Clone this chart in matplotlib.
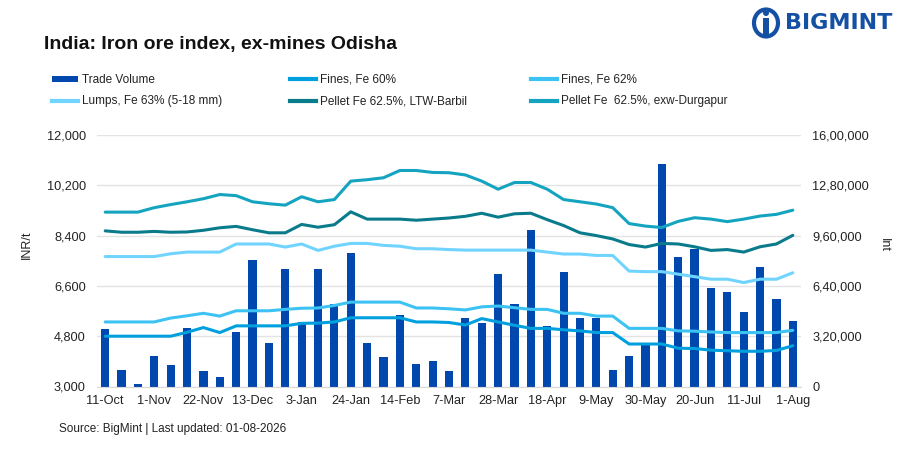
import matplotlib
matplotlib.use('Agg')
import matplotlib.pyplot as plt
from matplotlib.lines import Line2D
from matplotlib.patches import Patch, Ellipse, Rectangle
from matplotlib.ticker import FuncFormatter, FixedLocator
import numpy as np

# weekly dates, 11-Oct .. 1-Aug
weeks = ['11-Oct', '18-Oct', '25-Oct', '1-Nov', '8-Nov', '15-Nov', '22-Nov', '29-Nov',
         '6-Dec', '13-Dec', '20-Dec', '27-Dec', '3-Jan', '10-Jan', '17-Jan', '24-Jan',
         '31-Jan', '7-Feb', '14-Feb', '21-Feb', '28-Feb', '7-Mar', '14-Mar', '21-Mar',
         '28-Mar', '4-Apr', '11-Apr', '18-Apr', '25-Apr', '2-May', '9-May', '16-May',
         '23-May', '30-May', '6-Jun', '13-Jun', '20-Jun', '27-Jun', '4-Jul', '11-Jul',
         '18-Jul', '25-Jul', '1-Aug']

trade_volume = [365000, 106000, 19000, 197000, 138000, 373000, 100000, 59000, 348000, 806000,
                278000, 749000, 409000, 749000, 524000, 848000, 278000, 189000, 456000, 140000,
                165000, 100000, 435000, 403000, 713000, 524000, 995000, 386000, 727000, 435000,
                435000, 102000, 193000, 278000, 1417000, 823000, 874000, 628000, 600000, 473000,
                759000, 558000, 416000]

fines_60 = [4800, 4800, 4800, 4800, 4800, 4940, 5110, 4930, 5170, 5170,
            5170, 5170, 5260, 5270, 5310, 5460, 5460, 5460, 5460, 5310,
            5310, 5290, 5200, 5430, 5310, 5190, 5080, 5080, 5030, 4990,
            4930, 4930, 4520, 4520, 4520, 4370, 4360, 4300, 4280, 4260,
            4260, 4290, 4460]

fines_62 = [5310, 5310, 5310, 5310, 5450, 5530, 5620, 5520, 5710, 5710,
            5710, 5760, 5800, 5810, 5900, 6020, 6020, 6020, 6020, 5810,
            5810, 5780, 5740, 5850, 5880, 5820, 5760, 5760, 5620, 5620,
            5520, 5520, 5080, 5080, 5080, 4990, 4980, 4950, 4930, 4930,
            4930, 4930, 5010]

lumps_63 = [7650, 7650, 7650, 7650, 7750, 7810, 7810, 7810, 8100, 8100,
            8100, 7990, 8100, 7870, 8020, 8120, 8120, 8050, 8020, 7930,
            7930, 7900, 7880, 7880, 7880, 7880, 7880, 7810, 7740, 7740,
            7690, 7690, 7130, 7110, 7110, 7020, 6930, 6840, 6840, 6720,
            6840, 6840, 7070]

pellet_barbil = [8570, 8520, 8520, 8550, 8520, 8530, 8590, 8680, 8730, 8610,
                 8500, 8500, 8800, 8700, 8790, 9250, 8990, 8990, 8990, 8950,
                 8990, 9030, 9090, 9200, 9060, 9180, 9200, 8970, 8760, 8500,
                 8400, 8280, 8080, 7990, 8120, 8100, 8000, 7870, 7900, 7810,
                 8000, 8100, 8410]

pellet_durgapur = [9240, 9240, 9240, 9400, 9510, 9610, 9720, 9870, 9830, 9610,
                   9540, 9490, 9790, 9610, 9690, 10350, 10400, 10470, 10730, 10730,
                   10660, 10650, 10570, 10350, 10060, 10300, 10300, 10060, 9690, 9610,
                   9530, 9400, 8830, 8740, 8690, 8910, 9040, 8990, 8900, 8990,
                   9100, 9160, 9310]

price_ticks = [3000, 4800, 6600, 8400, 10200, 12000]
volume_ticks = [0, 320000, 640000, 960000, 1280000, 1600000]

c_bar = '#0048AD'
c_f60 = '#00A0DE'
c_f62 = '#3CC3F4'
c_lump = '#70D4FF'
c_barbil = '#0A7B8B'
c_durg = '#14A4BF'
c_text = '#222222'

W, H = 907, 453


def indian_fmt(v, pos=None):
    s = str(int(round(v)))
    if len(s) <= 3:
        return s
    last3 = s[-3:]
    rest = s[:-3]
    parts = []
    while len(rest) > 2:
        parts.insert(0, rest[-2:])
        rest = rest[:-2]
    if rest:
        parts.insert(0, rest)
    return ','.join(parts) + ',' + last3


plt.rcParams['font.family'] = ['Liberation Sans', 'DejaVu Sans']

fig = plt.figure(figsize=(W / 100, H / 100), dpi=100)
fig.patch.set_facecolor('white')

left, right = 97 / W, 801 / W
bottom, top = 1 - 386.5 / H, 1 - 135 / H
ax = fig.add_axes([left, bottom, right - left, top - bottom])
x = np.arange(len(weeks))

# volume bars (right axis) drawn underneath
ax.bar(x, trade_volume, width=0.5, color=c_bar, zorder=2)
ax.set_ylim(0, 1600000)
ax.grid(axis='y', color='#E3E3E3', linewidth=1, zorder=0)
ax.set_axisbelow(True)
ax.set_xlim(-0.5, len(weeks) - 0.5)
ax.set_xticks(x[::3])
ax.set_xticklabels(weeks[::3])

# prices on left axis, on top of bars
axp = ax.twinx()
axp.plot(x, fines_60, color=c_f60, lw=2.2, solid_capstyle='round')
axp.plot(x, fines_62, color=c_f62, lw=2.2, solid_capstyle='round')
axp.plot(x, lumps_63, color=c_lump, lw=2.2, solid_capstyle='round')
axp.plot(x, pellet_barbil, color=c_barbil, lw=2.2, solid_capstyle='round')
axp.plot(x, pellet_durgapur, color=c_durg, lw=2.2, solid_capstyle='round')
axp.set_ylim(3000, 12000)

# swap sides: prices left, volume right
axp.yaxis.tick_left()
ax.yaxis.tick_right()
axp.yaxis.set_major_locator(FixedLocator(price_ticks))
axp.yaxis.set_major_formatter(FuncFormatter(lambda v, p: f'{int(v):,}'))
ax.yaxis.set_major_locator(FixedLocator(volume_ticks))
ax.yaxis.set_major_formatter(FuncFormatter(indian_fmt))

for a in (ax, axp):
    for s in a.spines.values():
        s.set_visible(False)
    a.tick_params(length=0, labelsize=9.2, colors=c_text)
ax.tick_params(axis='x', pad=6)
ax.tick_params(axis='y', pad=8)
axp.tick_params(axis='y', pad=8)
ax.spines['bottom'].set_visible(True)
ax.spines['bottom'].set_color('#D9D9D9')

fig.text(27 / W, 1 - 245 / H, 'INR/t', rotation=90, ha='center', va='center',
         fontsize=9, color=c_text)
fig.text(884 / W, 1 - 245 / H, 'Int', rotation=270, ha='center', va='center',
         fontsize=9, color=c_text)

# title
fig.text(44 / W, 1 - 45 / H, 'India: Iron ore index, ex-mines Odisha', ha='left', va='center',
         fontsize=14, fontweight='bold', color='#111111')

# legend, three columns
cols = [
    ([Patch(facecolor=c_bar), Line2D([], [], color=c_lump, lw=3)],
     ['Trade Volume', 'Lumps, Fe 63% (5-18 mm)'], 52),
    ([Line2D([], [], color=c_f60, lw=3), Line2D([], [], color=c_barbil, lw=3)],
     ['Fines, Fe 60%', 'Pellet Fe 62.5%, LTW-Barbil'], 290),
    ([Line2D([], [], color=c_f62, lw=3), Line2D([], [], color=c_durg, lw=3)],
     ['Fines, Fe 62%', 'Pellet Fe  62.5%, exw-Durgapur'], 531),
]
for handles, labels, xpx in cols:
    leg = fig.legend(handles, labels, loc='upper left', bbox_to_anchor=(xpx / W, 1 - 74 / H),
                     frameon=False, fontsize=8.5, handlelength=2.2, handleheight=0.4,
                     handletextpad=0.3, labelspacing=0.8, borderpad=0, borderaxespad=0)
    for t in leg.get_texts():
        t.set_color(c_text)

# logo
logo_c = '#1450A3'
fig.patches.append(Ellipse((766 / W, 1 - 23 / H), 24 / W, 27 / H, transform=fig.transFigure,
                           facecolor='none', edgecolor=logo_c, lw=3))
fig.patches.append(Rectangle((763 / W, 1 - 35 / H), 6 / W, 17 / H, transform=fig.transFigure,
                             facecolor=logo_c, edgecolor='none'))
fig.patches.append(Ellipse((766 / W, 1 - 13 / H), 6 / W, 6 / H, transform=fig.transFigure,
                           facecolor=logo_c, edgecolor='none'))
fig.text(785 / W, 1 - 23 / H, 'BIGMINT', ha='left', va='center', fontsize=16,
         fontweight='bold', color=logo_c, family='DejaVu Sans')

# source
fig.text(59 / W, 1 - 429 / H, 'Source: BigMint | Last updated: 01-08-2026', ha='left',
         va='center', fontsize=8.5, color=c_text)

fig.savefig('out.png', dpi=100, facecolor='white')
